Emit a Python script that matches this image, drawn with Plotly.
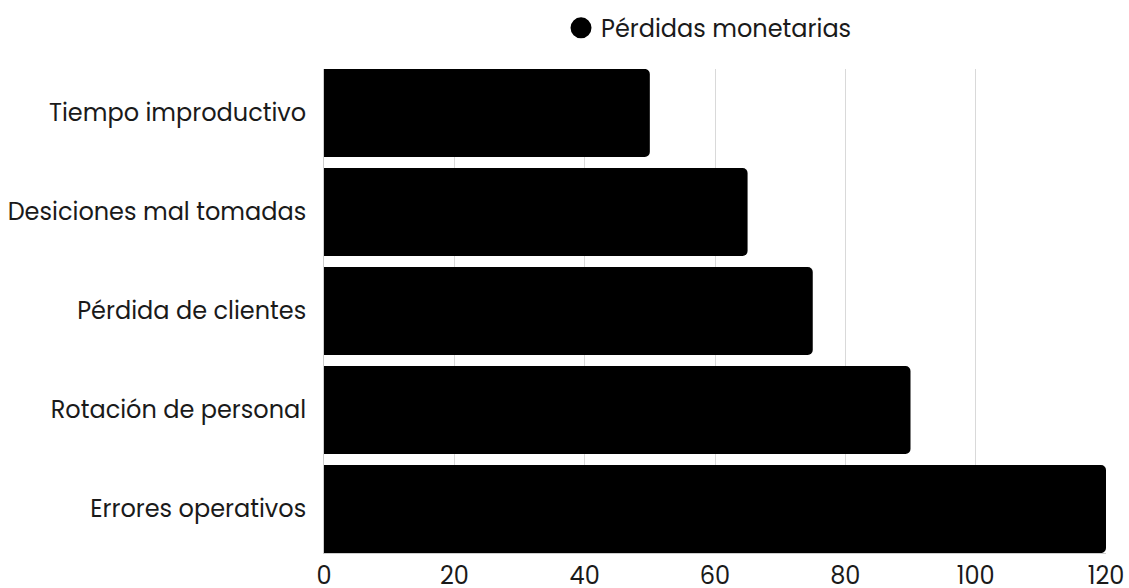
import plotly.graph_objects as go

categories = ["Tiempo improductivo", "Desiciones mal tomadas", "Pérdida de clientes",
              "Rotación de personal", "Errores operativos"]
values = [50, 65, 75, 90, 120]
series_name = "Pérdidas monetarias"
x_ticks = [0, 20, 40, 60, 80, 100, 120]

FONT = "Poppins, Lato, sans-serif"

fig = go.Figure()
fig.add_trace(go.Bar(
    y=categories, x=values, orientation="h",
    marker=dict(color="#000000", line=dict(width=0)),
    showlegend=False, name=series_name,
))
fig.add_trace(go.Scatter(
    x=[None], y=[None], mode="markers", name=series_name,
    marker=dict(symbol="circle", size=16, color="#000000",
                line=dict(color="#000000", width=5)),
    showlegend=True,
))

fig.update_layout(
    width=1129, height=588,
    margin=dict(l=324, r=23, t=69, b=35, autoexpand=False),
    paper_bgcolor="white", plot_bgcolor="white",
    font=dict(family=FONT, size=24, color="#1a1a1a"),
    bargap=0.111,
    barcornerradius=5,
    legend=dict(orientation="h", xref="container", yref="container",
                x=0.628, xanchor="center", y=0.952, yanchor="middle",
                font=dict(size=24), itemwidth=30, bgcolor="rgba(0,0,0,0)"),
    xaxis=dict(range=[0, 120], tickvals=x_ticks, showgrid=True, gridcolor="#d9d9d9",
               gridwidth=1, zeroline=False, showline=True, linecolor="#cccccc",
               linewidth=1, ticks="", tickfont=dict(size=24), ticklabelstandoff=1),
    yaxis=dict(categoryorder="array", categoryarray=categories, autorange=False,
               range=[4.444, -0.444], showgrid=False, zeroline=False,
               showline=True, linecolor="#cccccc", linewidth=1, ticks="",
               ticklabelstandoff=12, tickfont=dict(size=24)),
)

fig.write_html(
    "out.html",
    config={"displayModeBar": False},
    post_script="document.body.style.margin='0';document.body.style.overflow='hidden';",
)
